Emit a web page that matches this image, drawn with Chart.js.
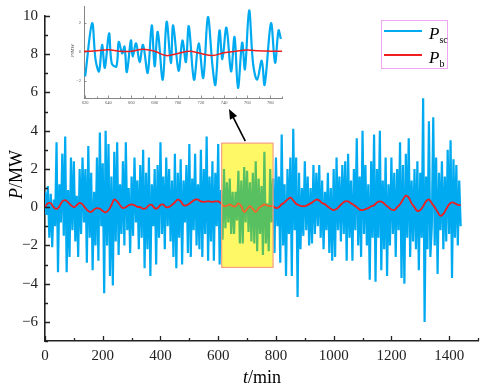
<!DOCTYPE html>
<html>
<head>
<meta charset="utf-8">
<script src="https://cdn.jsdelivr.net/npm/chart.js@4.4.1/dist/chart.umd.min.js"></script>
<style>
    body { margin: 0; background: #fff; }
    #wrap { position: relative; width: 484px; height: 387px; font-family: "Liberation Serif", serif; }
    canvas { position: absolute; }
    #mainChart { left: 0; top: 0; }
    #insetChart { left: 60px; top: 0; }
    .ytitle { position: absolute; transform: rotate(-90deg); transform-origin: center; white-space: nowrap; }
    #legend { position: absolute; left: 381px; top: 20px; width: 65px; height: 47px; border: 1px solid rgb(240, 165, 240); }
    #legend .swatch { position: absolute; left: 2px; width: 38px; height: 2px; }
    #legend .lbl { position: absolute; left: 47px; font-size: 17px; }
    #legend sub { font-size: 10px; font-style: normal; }
</style>
</head>
<body>
<div id="wrap">
    <canvas id="mainChart" width="484" height="387"></canvas>
    <canvas id="insetChart" width="226" height="108"></canvas>
    <div class="ytitle" style="left:-9px; top:164px; width:50px; font-size:18px; text-align:center;"><i>P</i>/MW</div>
    <div style="position:absolute; left:243px; top:367px; font-size:18px;"><i>t</i>/min</div>
    <div class="ytitle" style="left:62px; top:48px; width:20px; font-size:5px; text-align:center; color:#333;"><i>P</i>/MW</div>
    <div id="legend">
        <div class="swatch" style="top:9px; background:rgb(0,170,240);"></div>
        <div class="lbl" style="top:3px;"><i>P</i><sub>sc</sub></div>
        <div class="swatch" style="top:33px; background:rgb(240,30,30);"></div>
        <div class="lbl" style="top:27px;"><i>P</i><sub>b</sub></div>
    </div>
</div>
<script>
// P_sc, sampled every 5 min from 0 to 1440
const SC_STEP = 5;
const scValues = [
    0.8, -0.4, 1.1, -1.6, 0.7, -2.1, 0.4, -1.0, 3.4, -3.4,
    1.2, -0.8, 2.8, -1.5, 3.7, -3.4, 0.9, -2.6, 2.6, -1.2,
    2.4, -1.8, 0.6, -2.6, 2.0, -1.4, 2.6, -0.8, 2.0, -2.9,
    3.2, -1.6, 1.8, -3.3, 0.8, -2.0, 2.6, -2.8, 3.9, -1.0,
    2.3, -4.5, 4.0, -2.0, 3.3, -3.6, 1.6, -4.1, 2.9, -1.8,
    3.4, -2.5, 1.2, -1.4, 2.4, -2.0, 3.4, -1.2, 1.0, -2.4,
    1.6, -1.5, 2.6, -0.8, 1.4, -2.2, 2.2, -1.6, 3.0, -3.2,
    1.8, -2.2, 2.6, -3.6, 1.2, -1.0, 2.0, -3.0, 2.2, -1.6,
    3.4, -1.4, 1.6, -2.2, 2.6, -1.0, 2.0, -1.8, 1.4, -2.6,
    2.8, -3.2, 1.8, -1.6, 2.5, -3.0, 1.4, -0.8, 2.2, -2.4,
    3.3, -2.6, 1.5, -1.2, 2.8, -2.0, 1.2, -2.2, 3.0, -2.6,
    2.0, -1.4, 3.7, -2.8, 1.6, -1.8, 2.4, -2.8, 1.8, -1.0,
    3.3, -3.0, 0.9, -1.7, 2.0, -1.1, 1.3, -0.8, 1.5, -1.4,
    0.8, -1.4, 0.8, -0.7, 1.9, -1.9, 1.4, -1.9, 2.1, -0.8,
    1.9, -1.3, 1.3, -1.8, 1.8, -1.9, 2.4, -2.3, 1.5, -1.4,
    1.1, -2.5, 2.9, -1.9, 0.2, -2.3, 2.0, -0.8, 1.5, -2.4,
    2.6, -1.0, 1.6, -2.9, 3.8, -2.0, 1.2, -3.6, 2.0, -1.4,
    2.6, -3.6, 4.1, -1.2, 2.6, -4.7, 1.8, -2.2, 1.0, -1.5,
    2.4, -1.2, 1.6, -2.0, 1.0, -1.9, 2.2, -1.4, 1.8, -1.0,
    2.2, -1.6, 1.4, -2.2, 0.8, -1.2, 1.8, -2.4, 1.0, -2.8,
    2.0, -2.6, 2.6, -1.2, 1.6, -1.8, 2.2, -1.4, 2.4, -2.8,
    2.8, -1.6, 1.4, -2.8, 2.0, -1.2, 3.6, -2.0, 1.6, -2.6,
    4.0, -1.4, 2.2, -2.0, 1.2, -3.8, 2.4, -1.6, 3.8, -3.9,
    2.0, -1.6, 4.0, -3.3, 1.4, -2.2, 2.6, -3.6, 1.2, -2.0,
    2.6, -1.4, 1.8, -2.6, 2.0, -1.2, 3.4, -3.7, 2.2, -4.0,
    2.8, -1.6, 3.6, -2.6, 1.4, -1.8, 2.0, -2.2, 2.4, -3.3,
    1.8, -1.6, 5.7, -6.0, 1.6, -2.2, 4.5, -2.6, -1.0, 4.7,
    -2.0, 2.6, -3.5, 1.8, -1.2, 2.4, -2.2, 1.6, -1.8, 3.0,
    -1.4, 3.5, -3.7, 2.5, -1.6, 2.2, -2.0, 1.4, -1.0
];

// P_b, sampled every 10 min from 0 to 1440
const B_STEP = 10;
const bValues = [
    0.0, 0.2, 0.2, 0.0, -0.1, 0.05, 0.3, 0.37, 0.25, 0.1,
    0.0, 0.1, 0.22, 0.15, -0.05, -0.2, -0.25, -0.12, -0.05, -0.08,
    -0.2, -0.27, -0.15, 0.1, 0.4, 0.3, 0.1, -0.05, 0.0, 0.1,
    0.15, 0.1, 0.02, 0.0, -0.08, -0.05, 0.1, 0.12, -0.05, -0.05,
    0.12, 0.13, 0.0, 0.02, 0.12, 0.25, 0.4, 0.3, 0.1, 0.1,
    0.18, 0.3, 0.4, 0.4, 0.3, 0.28, 0.3, 0.3, 0.28, 0.3,
    0.3, 0.2, 0.05, 0.08, 0.15, 0.05, 0.05, 0.2, 0.05, -0.25,
    -0.1, 0.05, -0.1, -0.25, -0.05, 0.05, 0.14, 0.08, 0.06, 0.05,
    -0.05, 0.0, 0.15, 0.25, 0.4, 0.5, 0.35, 0.18, 0.1, 0.05,
    0.05, 0.12, 0.2, 0.3, 0.4, 0.35, 0.22, 0.15, 0.02, -0.08,
    -0.15, -0.1, 0.05, 0.2, 0.3, 0.3, 0.2, 0.12, 0.0, -0.13,
    -0.15, -0.1, -0.05, 0.05, 0.1, 0.25, 0.3, 0.25, 0.12, 0.0,
    -0.12, -0.15, 0.0, 0.15, 0.4, 0.6, 0.5, 0.2, 0.0, -0.2,
    -0.15, 0.05, 0.3, 0.4, 0.2, 0.0, -0.25, -0.45, -0.35, -0.1,
    0.15, 0.25, 0.2, 0.12, 0.1
];

// zoomed detail of P_sc between 620 and 790 min (inset)
const insetTimes = [620, 626, 629, 632, 634.6, 637, 640.6, 643, 647, 649, 652, 654, 656, 659.5, 661, 664, 667, 670,
    674, 677.5, 680, 682.7, 687, 690.4, 694, 696, 700.7, 704, 707, 709.5, 714, 718, 722, 726, 730, 732.5, 736,
    738.5, 742, 746, 749, 752, 755.6, 758, 761.6, 765, 768.5, 772.5, 775, 780.5, 784, 787, 789];
const insetValues = [-1.7, 2.0, -0.55, -1.35, 0.5, -1.1, 1.3, -0.8, -1.0, 0.7, -0.1, 0.37, -1.4, 0.8, -0.3, 0.6, -0.7, 0.5,
    -1.45, 1.86, -1.0, 1.4, -1.93, 2.1, -0.77, 1.86, -1.3, 0.8, -0.7, 1.8, -1.93, 0.6, -1.8, 2.43, -1.0, -2.28, 1.5,
    -0.5, 1.7, -1.35, 1.05, -2.5, 0.65, -1.2, 2.9, -0.8, -1.93, -0.6, -2.28, 2.0, -0.75, 1.5, 0.9];

const xTickValues = [0, 100, 200, 300, 400, 500, 600, 700, 800, 900, 1000, 1100, 1200, 1300, 1400, 1500];
const xLabelValues = [0, 200, 400, 600, 800, 1000, 1200, 1400];
const yTickValues = [-7, -6, -5, -4, -3, -2, -1, 0, 1, 2, 3, 4, 5, 6, 7, 8, 9, 10];
const yLabelValues = [-6, -4, -2, 0, 2, 4, 6, 8, 10];
const insetXTickValues = [620, 630, 640, 650, 660, 670, 680, 690, 700, 710, 720, 730, 740, 750, 760, 770, 780, 790];
const insetXLabelValues = [620, 640, 660, 680, 700, 720, 740, 760, 780];
const insetYLabelValues = [-2, 0, 2];

// highlighted window on the main chart
const zoomBox = { x0: 612, x1: 790, y0: -3.15, y1: 3.35 };

const BLUE = "rgb(0, 170, 240)";
const RED = "rgb(240, 30, 30)";

const scPoints = scValues.map((v, i) => ({ x: i * SC_STEP, y: v }));
const bPoints = bValues.map((v, i) => ({ x: i * B_STEP, y: v }));
const insetPoints = insetTimes.map((t, i) => ({ x: t, y: insetValues[i] }));

function fmt(v) {
    return v < 0 ? "\u2212" + Math.abs(v) : String(v);
}

// ticks drawn pointing into the plot, long where there is a label
const inwardTicks = {
    id: "inwardTicks",
    afterDraw(chart, args, opts) {
        const { ctx } = chart;
        const xs = chart.scales.x, ys = chart.scales.y;
        ctx.save();
        ctx.strokeStyle = opts.color;
        ctx.lineWidth = opts.width;
        ctx.beginPath();
        xs.ticks.forEach(t => {
            const px = Math.round(xs.getPixelForValue(t.value)) + 0.5;
            const len = opts.xLabels.includes(t.value) ? opts.major : opts.minor;
            ctx.moveTo(px, ys.bottom);
            ctx.lineTo(px, ys.bottom - len);
        });
        ys.ticks.forEach(t => {
            const py = Math.round(ys.getPixelForValue(t.value)) + 0.5;
            const len = opts.yLabels.includes(t.value) ? opts.major : opts.minor;
            ctx.moveTo(xs.left, py);
            ctx.lineTo(xs.left + len, py);
        });
        ctx.stroke();
        ctx.restore();
    }
};

const boxAndArrow = {
    id: "boxAndArrow",
    afterDatasetsDraw(chart) {
        const { ctx } = chart;
        const xs = chart.scales.x, ys = chart.scales.y;
        const left = xs.getPixelForValue(zoomBox.x0), right = xs.getPixelForValue(zoomBox.x1);
        const top = ys.getPixelForValue(zoomBox.y1), bottom = ys.getPixelForValue(zoomBox.y0);
        ctx.save();
        // multiply turns the blue trace green, then a light wash of yellow on top
        ctx.globalCompositeOperation = "multiply";
        ctx.fillStyle = "rgb(255, 255, 110)";
        ctx.fillRect(left, top, right - left, bottom - top);
        ctx.globalCompositeOperation = "source-over";
        ctx.fillStyle = "rgba(255, 235, 90, 0.35)";
        ctx.fillRect(left, top, right - left, bottom - top);
        ctx.strokeStyle = "rgb(245, 160, 130)";
        ctx.lineWidth = 1.2;
        ctx.strokeRect(left, top, right - left, bottom - top);

        // arrow from the box up to the inset
        const sx = left + (right - left) * 0.46, sy = top - 2;
        const ex = 229, ey = 109;
        const ang = Math.atan2(ey - sy, ex - sx);
        ctx.strokeStyle = "#000";
        ctx.fillStyle = "#000";
        ctx.lineWidth = 1.6;
        ctx.beginPath();
        ctx.moveTo(sx, sy);
        ctx.lineTo(ex - 6 * Math.cos(ang), ey - 6 * Math.sin(ang));
        ctx.stroke();
        ctx.beginPath();
        ctx.moveTo(ex, ey);
        ctx.lineTo(ex - 10 * Math.cos(ang) + 4 * Math.sin(ang), ey - 10 * Math.sin(ang) - 4 * Math.cos(ang));
        ctx.lineTo(ex - 10 * Math.cos(ang) - 4 * Math.sin(ang), ey - 10 * Math.sin(ang) + 4 * Math.cos(ang));
        ctx.closePath();
        ctx.fill();
        ctx.restore();
    }
};

new Chart(document.getElementById("mainChart"), {
    type: "line",
    data: {
        datasets: [
            { label: "Pb", data: bPoints, borderColor: RED, borderWidth: 1.8, pointRadius: 0, tension: 0.4, order: 0 },
            { label: "Psc", data: scPoints, borderColor: BLUE, borderWidth: 2.2, pointRadius: 0, tension: 0, order: 1 }
        ]
    },
    options: {
        responsive: false,
        animation: false,
        layout: { padding: { top: 6, right: 2, left: 0, bottom: 0 } },
        plugins: {
            legend: { display: false },
            tooltip: { enabled: false },
            inwardTicks: { color: "#222", width: 1.3, major: 5, minor: 3, xLabels: xLabelValues, yLabels: yLabelValues }
        },
        scales: {
            x: {
                type: "linear",
                min: 0,
                max: 1500,
                afterBuildTicks: s => { s.ticks = xTickValues.map(v => ({ value: v })); },
                afterFit: s => { s.height = 46; },
                grid: { display: false, drawTicks: false },
                border: { display: true, color: "#222", width: 1.6 },
                ticks: {
                    padding: 6,
                    maxRotation: 0,
                    autoSkip: false,
                    color: "#222",
                    font: { family: "Liberation Serif", size: 15 },
                    callback: v => xLabelValues.includes(v) ? String(v) : ""
                }
            },
            y: {
                min: -7,
                max: 10,
                afterBuildTicks: s => { s.ticks = yTickValues.map(v => ({ value: v })); },
                afterFit: s => { s.width = 45; },
                grid: { display: false, drawTicks: false },
                border: { display: true, color: "#222", width: 1.6 },
                ticks: {
                    padding: 7,
                    autoSkip: false,
                    color: "#222",
                    font: { family: "Liberation Serif", size: 15 },
                    callback: v => yLabelValues.includes(v) ? fmt(v) : ""
                }
            }
        }
    },
    plugins: [inwardTicks, boxAndArrow]
});

new Chart(document.getElementById("insetChart"), {
    type: "line",
    data: {
        datasets: [
            { label: "Pb", data: bPoints, borderColor: RED, borderWidth: 1.5, pointRadius: 0, tension: 0.4, order: 0 },
            { label: "Psc", data: insetPoints, borderColor: BLUE, borderWidth: 2.2, pointRadius: 0, tension: 0.35, order: 1 }
        ]
    },
    options: {
        responsive: false,
        animation: false,
        layout: { padding: { top: 6, right: 4, left: 0, bottom: 0 } },
        plugins: {
            legend: { display: false },
            tooltip: { enabled: false },
            inwardTicks: { color: "#777", width: 0.8, major: 2.5, minor: 1.5, xLabels: insetXLabelValues, yLabels: insetYLabelValues }
        },
        scales: {
            x: {
                type: "linear",
                min: 619,
                max: 790,
                afterBuildTicks: s => { s.ticks = insetXTickValues.map(v => ({ value: v })); },
                afterFit: s => { s.height = 10; },
                grid: { display: false, drawTicks: false },
                border: { display: true, color: "#777", width: 0.9 },
                ticks: {
                    padding: 2,
                    maxRotation: 0,
                    autoSkip: false,
                    color: "#555",
                    font: { family: "Liberation Serif", size: 4.5 },
                    callback: v => insetXLabelValues.includes(v) ? String(v) : ""
                }
            },
            y: {
                min: -3.2,
                max: 3.2,
                afterBuildTicks: s => { s.ticks = insetYLabelValues.map(v => ({ value: v })); },
                afterFit: s => { s.width = 24; },
                grid: { display: false, drawTicks: false },
                border: { display: true, color: "#777", width: 0.9 },
                ticks: {
                    padding: 3,
                    autoSkip: false,
                    color: "#555",
                    font: { family: "Liberation Serif", size: 4.5 },
                    callback: v => fmt(v)
                }
            }
        }
    },
    plugins: [inwardTicks]
});
</script>
</body>
</html>
